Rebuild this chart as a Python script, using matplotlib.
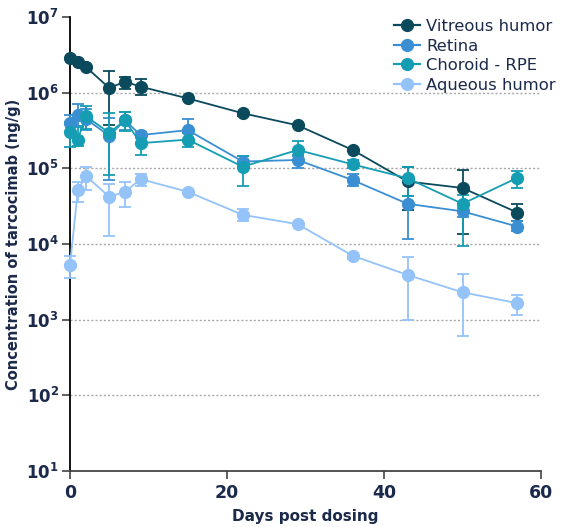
import matplotlib
matplotlib.use("Agg")
import matplotlib.pyplot as plt
from matplotlib.lines import Line2D
import numpy as np

# data (ng/g)
days = [0, 1, 2, 5, 7, 9, 15, 22, 29, 36, 43, 50, 57]

vitreous = [2.9e6, 2.55e6, 2.2e6, 1.15e6, 1.4e6, 1.2e6, 8.4e5, 5.35e5, 3.7e5, 1.75e5, 6.7e4, 5.5e4, 2.6e4]
vit_lo = [2.9e6, 2.55e6, 2.2e6, 3.7e5, 1.11e6, 9.3e5, 8.4e5, 4.9e5, 3.7e5, 1.75e5, 2.8e4, 1.35e4, 2.0e4]
vit_hi = [2.9e6, 2.55e6, 2.2e6, 1.94e6, 1.63e6, 1.51e6, 8.4e5, 5.6e5, 3.7e5, 1.75e5, 1.05e5, 9.6e4, 3.4e4]

retina = [4.0e5, 5.1e5, 4.5e5, 2.7e5, 4.3e5, 2.75e5, 3.2e5, 1.23e5, 1.29e5, 7.0e4, 3.4e4, 2.7e4, 1.7e4]
ret_lo = [3.0e5, 3.6e5, 3.2e5, 7.1e4, 3.2e5, 2.5e5, 2.9e5, 1.1e5, 1.0e5, 5.8e4, 1.17e4, 2.3e4, 1.5e4]
ret_hi = [5.0e5, 7.1e5, 6.0e5, 4.6e5, 5.6e5, 3.0e5, 4.5e5, 1.45e5, 1.45e5, 8.5e4, 4.3e4, 3.0e4, 2.0e4]

choroid = [3.0e5, 2.4e5, 4.9e5, 2.95e5, 4.3e5, 2.15e5, 2.4e5, 1.05e5, 1.75e5, 1.13e5, 7.4e4, 3.4e4, 7.5e4]
cho_lo = [1.9e5, 1.95e5, 3.3e5, 8.1e4, 3.1e5, 1.5e5, 1.9e5, 5.9e4, 1.5e5, 1.0e5, 4.3e4, 9.5e3, 5.5e4]
cho_hi = [4.1e5, 3.5e5, 6.6e5, 5.4e5, 5.5e5, 2.7e5, 2.9e5, 1.45e5, 2.3e5, 1.3e5, 1.05e5, 4.5e4, 9.3e4]

aqueous = [5.3e3, 5.1e4, 8.0e4, 4.2e4, 4.9e4, 7.2e4, 4.9e4, 2.43e4, 1.83e4, 7.0e3, 3.9e3, 2.3e3, 1.65e3]
aq_lo = [3.6e3, 3.6e4, 5.2e4, 1.26e4, 3.1e4, 5.8e4, 4.9e4, 2.0e4, 1.83e4, 6.3e3, 1.0e3, 6.0e2, 1.15e3]
aq_hi = [6.9e3, 6.6e4, 1.04e5, 6.3e4, 6.6e4, 8.5e4, 4.9e4, 2.9e4, 1.83e4, 7.7e3, 6.7e3, 4.0e3, 2.1e3]

series_names = ["Vitreous humor", "Retina", "Choroid - RPE", "Aqueous humor"]
colors = ["#0b4a5c", "#3a8fd2", "#159db4", "#94c3f9"]

navy = "#1b2a4a"
plt.rcParams["font.family"] = ["DejaVu Sans"]
plt.rcParams["mathtext.fontset"] = "dejavusans"

fig = plt.figure(figsize=(5.62, 5.27), dpi=100)
ax = fig.add_axes([70 / 562, 56 / 527, 471 / 562, 454 / 527])

all_series = [(vitreous, vit_lo, vit_hi), (retina, ret_lo, ret_hi),
              (choroid, cho_lo, cho_hi), (aqueous, aq_lo, aq_hi)]
handles = []
for (vals, lo, hi), name, c in zip(all_series, series_names, colors):
    vals = np.array(vals)
    err = [vals - np.array(lo), np.array(hi) - vals]
    ax.errorbar(days, vals, yerr=err, color=c, marker="o", markersize=8.5,
                lw=1.3, elinewidth=1.3, capsize=4, capthick=1.3,
                clip_on=False, zorder=3)
    handles.append(Line2D([], [], color=c, marker="o", markersize=8.5, lw=1.6, label=name))

ax.set_yscale("log")
ax.set_ylim(10, 1e7)
ax.set_xlim(0, 60)
ax.set_xticks([0, 20, 40, 60])
exps = [1, 2, 3, 4, 5, 6, 7]
ax.set_yticks([10.0 ** e for e in exps])
ax.set_yticklabels([r"$\mathbf{10^{%d}}$" % e for e in exps])
ax.yaxis.set_minor_locator(matplotlib.ticker.NullLocator())

for e in exps[1:-1]:
    ax.axhline(10.0 ** e, color="#a8a8a8", lw=1, ls=(0, (1.5, 1.5)), zorder=1)

for s in ["top", "right"]:
    ax.spines[s].set_visible(False)
ax.spines["left"].set_color("black")
ax.spines["left"].set_linewidth(1.3)
ax.spines["bottom"].set_color("#444444")
ax.spines["bottom"].set_linewidth(1.3)
ax.tick_params(axis="both", length=6, width=1.2, color="#444444",
               labelcolor=navy, labelsize=12.5)
ax.tick_params(axis="y", pad=2, labelsize=12)
for lab in ax.get_xticklabels():
    lab.set_fontweight("bold")

ax.set_xlabel("Days post dosing", fontsize=11, fontweight="bold", color=navy, labelpad=5)
ax.set_ylabel("Concentration of tarcocimab (ng/g)", fontsize=10.5, fontweight="bold",
              color=navy)
ax.yaxis.set_label_coords(-0.104, 0.5)

leg = ax.legend(handles=handles, loc="upper right", bbox_to_anchor=(1.045, 1.01), frameon=False,
                fontsize=11.8, handlelength=1.6, handletextpad=0.35, labelspacing=0.28,
                borderaxespad=0)
for t in leg.get_texts():
    t.set_color(navy)

fig.savefig("out.png", dpi=100)
